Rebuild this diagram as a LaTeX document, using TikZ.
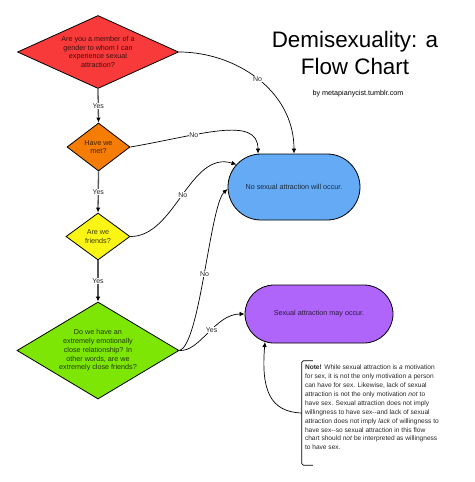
\documentclass[tikz,border=0pt]{standalone}
\usepackage{fontspec}
\setmainfont{Liberation Sans}
\usetikzlibrary{shapes.geometric,arrows.meta,calc}
\definecolor{cred}{RGB}{248,58,58}
\definecolor{corange}{RGB}{245,125,5}
\definecolor{cyellow}{RGB}{250,245,20}
\definecolor{cgreen}{RGB}{125,230,5}
\definecolor{cblue}{RGB}{100,170,245}
\definecolor{cpurple}{RGB}{175,100,250}
\definecolor{cgray}{RGB}{85,85,85}
\begin{document}
\begin{tikzpicture}[x=1pt,y=-1pt,
  dia/.style={diamond, draw=black, line width=0.8pt, inner sep=0pt, align=center,
    font=\fontsize{7.2}{8.8}\selectfont},
  term/.style={rectangle, draw=black, line width=0.8pt, align=center,
    font=\fontsize{7.2}{8.8}\selectfont},
  downarrow/.style={draw=cgray, line width=1.3pt, -{Latex[length=5pt,width=4.5pt,color=black]}},
  curvearrow/.style={draw=black, line width=0.7pt, -{Latex[length=5pt,width=4.5pt]}},
  lbl/.style={fill=white, inner sep=0.6pt, font=\fontsize{7}{8}\selectfont, text=black!85}
]
\useasboundingbox (0,0) rectangle (474,482);

% title
\node[align=center, font=\fontsize{22.4}{27}\selectfont] (title) at (355,52.5) {Demisexuality: a\\Flow Chart};
\node[anchor=base, font=\fontsize{7.2}{8.8}\selectfont] (byline) at (358,95) {by metapianycist.tumblr.com};

% decision nodes
\node[dia, fill=cred, text=cred!25!black, aspect=2.2, minimum width=161pt, minimum height=73pt] (red) at (98,52)
  {Are you a member of a\\gender to whom I can\\experience sexual\\attraction?};
\node[dia, fill=corange, text=corange!25!black, aspect=1.31, minimum width=63pt, minimum height=48pt] (orange) at (98.5,147)
  {Have we\\met?};
\node[dia, fill=cyellow, text=cyellow!25!black, aspect=1.36, minimum width=64pt, minimum height=47pt] (yellow) at (98,236.5)
  {Are we\\friends?};
\node[dia, fill=cgreen, text=cgreen!25!black, aspect=1.67, minimum width=162pt, minimum height=97pt] (green) at (98,350.5)
  {Do we have an\\extremely emotionally\\close relationship? In\\other words, are we\\extremely close friends?};

% terminal nodes
\node[term, fill=cblue, text=cblue!25!black, minimum width=132pt, minimum height=66pt, rounded corners=33pt] (blue) at (294,187)
  {No sexual attraction will occur.};
\node[term, fill=cpurple, text=cpurple!25!black, minimum width=148pt, minimum height=58pt, rounded corners=29pt] (purple) at (319,314)
  {Sexual attraction may occur.};

% note
\node[minimum width=153pt, minimum height=104pt, inner sep=0pt] (notebox) at (378.5,413) {};
\draw[line width=0.8pt, rounded corners=1.5pt] ([xshift=11pt]notebox.north west) -- (notebox.north west)
  -- (notebox.south west) -- ([xshift=11pt]notebox.south west);
\node[anchor=north west, align=left, inner sep=0pt, font=\fontsize{6.6}{8.9}\selectfont, text=black!85] (notetext)
  at ([shift={(3pt,-4pt)}]notebox.north west)
  {\textbf{Note!} While sexual attraction is \textit{a} motivation\\
   for sex, it is not the only motivation a person\\
   can have for sex. Likewise, lack of sexual\\
   attraction is not the only motivation \textit{not} to\\
   have sex. Sexual attraction does not imply\\
   willingness to have sex-\kern0pt-and lack of sexual\\
   attraction does not imply \textit{lack} of willingness to\\
   have sex-\kern0pt-so sexual attraction in this flow\\
   chart should \textit{not} be interpreted as willingness\\
   to have sex.};

% yes arrows
\draw[downarrow] (red.south) -- node[lbl] {Yes} (orange.north);
\draw[downarrow] (orange.south) -- node[lbl] {Yes} (yellow.north);
\draw[downarrow] (yellow.south) -- node[lbl] {Yes} (green.north);

% no curves
\draw[curvearrow] (red.east) .. controls (235,52) and (294,90) .. node[lbl, pos=0.5] {No} (blue.north);
\draw[curvearrow] (orange.east) .. controls (200,135) and (258,115) .. node[lbl, pos=0.33] {No} ([xshift=-36pt]blue.north);
\draw[curvearrow] (yellow.east) .. controls (175,237) and (190,150) .. node[lbl, pos=0.5] {No} ([shift={(8.9pt,22.5pt)}]blue.west);
\draw[curvearrow] (green.east) .. controls (200,345) and (210,205) .. node[lbl, pos=0.5] {No} ([yshift=-2pt]blue.west);
\draw[curvearrow] (green.east) .. controls (200,352) and (215,314) .. node[lbl, pos=0.55] {Yes} (purple.west);

% note arrow
\draw[curvearrow] (notebox.west) .. controls (270,412) and (261,390) .. ([shift={(-54pt,1.4pt)}]purple.south);
\end{tikzpicture}
\end{document}
